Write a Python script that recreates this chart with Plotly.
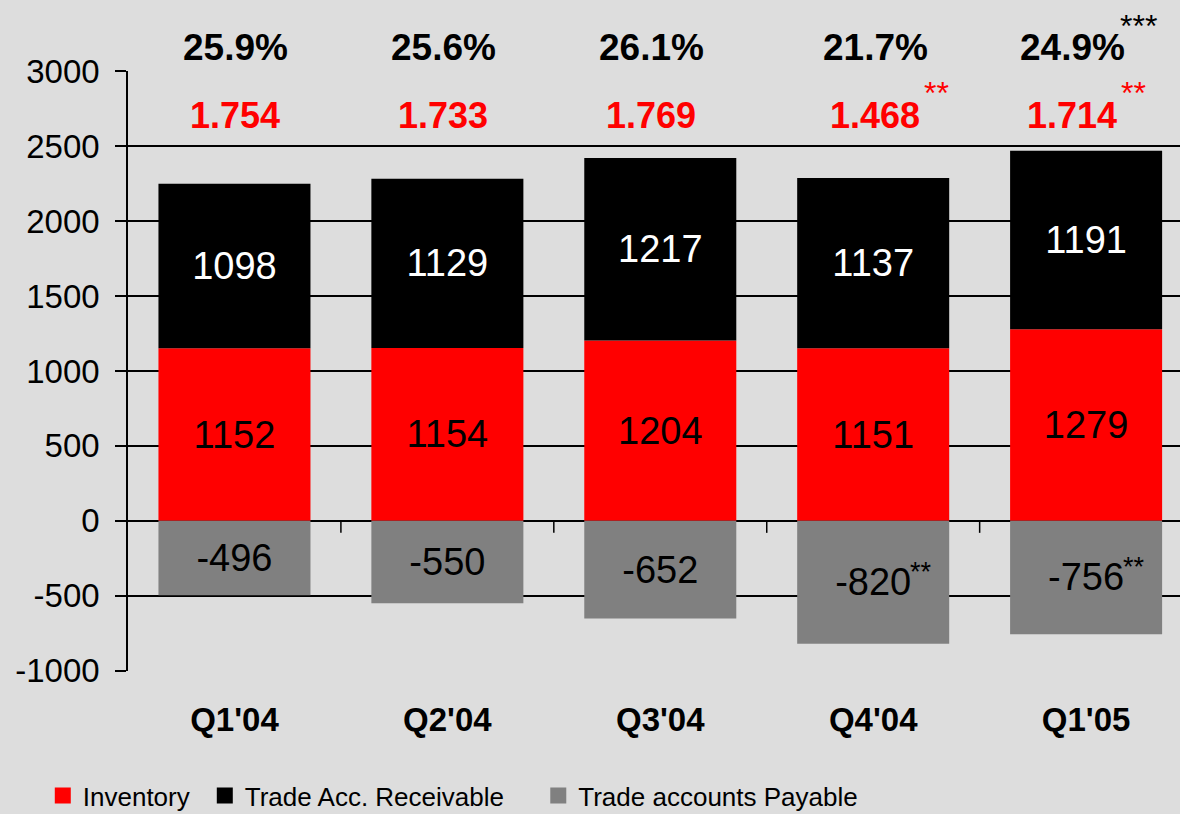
import plotly.graph_objects as go

# ---------------- data ----------------
categories = ["Q1'04", "Q2'04", "Q3'04", "Q4'04", "Q1'05"]
inventory = [1152, 1154, 1204, 1151, 1279]
receivable = [1098, 1129, 1217, 1137, 1191]
payable = [-496, -550, -652, -820, -756]
margin_pct = ["25.9%", "25.6%", "26.1%", "21.7%", "24.9%"]
working_capital = ["1.754", "1.733", "1.769", "1.468", "1.714"]
pct_notes = ["", "", "", "", "***"]
wc_notes = ["", "", "", "**", "**"]
payable_notes = ["", "", "", "**", "**"]
y_ticks = [-1000, -500, 0, 500, 1000, 1500, 2000, 2500, 3000]
series_names = ["Inventory", "Trade Acc. Receivable", "Trade accounts Payable"]

# ---------------- style ----------------
FONT = "Liberation Sans, Arial, sans-serif"
BG = "#DDDDDD"
RED = "#FF0000"
BLACK = "#000000"
GREY = "#808080"
Y_MIN, Y_MAX = -1002, 3002
PCT_Y = 3158
WC_Y = 2705
top_xshift = [1, -4, -9, 2, -14]
legend_x = [-0.081, 0.073, 0.390]


def paper_y(v):
    return (v - Y_MIN) / (Y_MAX - Y_MIN)


fig = go.Figure()

bar_specs = [
    (inventory, RED, "black"),
    (receivable, BLACK, "white"),
    (payable, GREY, "black"),
]
for name, (vals, color, tcolor) in zip(series_names, bar_specs):
    fig.add_trace(go.Bar(
        x=categories, y=vals, name=name,
        marker=dict(color=color, line=dict(width=0)),
        text=[str(v) for v in vals],
        textposition="inside", insidetextanchor="middle", textangle=0,
        textfont=dict(family=FONT, size=38, color=tcolor),
        showlegend=False, hoverinfo="skip",
    ))

# legend entries (square swatches), one legend each
for k, (name, (vals, color, tcolor)) in enumerate(zip(series_names, bar_specs)):
    lg = "legend" if k == 0 else f"legend{k + 1}"
    fig.add_trace(go.Scatter(
        x=[None], y=[None], mode="markers", name=name,
        marker=dict(symbol="square", size=16, color=color),
        legend=lg, showlegend=True,
    ))

annotations = []
for i, cat in enumerate(categories):
    annotations.append(dict(
        x=cat, y=paper_y(PCT_Y), xref="x", yref="paper", text=margin_pct[i], showarrow=False,
        font=dict(family=FONT, size=37, color=BLACK, weight="bold"),
        bgcolor=BG, width=149, borderpad=4, xanchor="center", yanchor="middle",
        xshift=top_xshift[i],
    ))
    annotations.append(dict(
        x=cat, y=WC_Y, xref="x", yref="y", text=working_capital[i], showarrow=False,
        font=dict(family=FONT, size=36, color=RED, weight="bold"),
        xanchor="center", yanchor="middle", xshift=top_xshift[i],
    ))
    if pct_notes[i]:
        annotations.append(dict(
            x=cat, y=paper_y(PCT_Y), xref="x", yref="paper", text=pct_notes[i], showarrow=False,
            font=dict(family=FONT, size=32, color=BLACK),
            xanchor="left", yanchor="middle", xshift=top_xshift[i] + 46, yshift=22,
        ))
    if wc_notes[i]:
        annotations.append(dict(
            x=cat, y=WC_Y, xref="x", yref="y", text=wc_notes[i], showarrow=False,
            font=dict(family=FONT, size=32, color=RED),
            xanchor="left", yanchor="middle", xshift=top_xshift[i] + 47, yshift=23,
        ))
    if payable_notes[i]:
        annotations.append(dict(
            x=cat, y=payable[i] / 2, xref="x", yref="y", text=payable_notes[i], showarrow=False,
            font=dict(family=FONT, size=27, color=BLACK),
            xanchor="left", yanchor="middle", xshift=35, yshift=10,
        ))

# small category tick marks hanging from the zero line
shapes = []
for i in range(len(categories) - 1):
    shapes.append(dict(
        type="line", xref="x", yref="y", x0=i + 0.5, x1=i + 0.5, y0=0, y1=-80,
        line=dict(color=BLACK, width=1.5), layer="above",
    ))

legend_common = dict(
    orientation="h", y=-0.2075, yanchor="middle", xanchor="left",
    font=dict(family=FONT, size=26, color=BLACK), bgcolor="rgba(0,0,0,0)",
    borderwidth=0, itemsizing="trace",
)

fig.update_layout(
    width=1180, height=814,
    margin=dict(l=128, r=0, t=71, b=143, autoexpand=False),
    paper_bgcolor=BG, plot_bgcolor=BG,
    barmode="relative", bargap=0.286,
    font=dict(family=FONT, color=BLACK),
    annotations=annotations, shapes=shapes,
    legend=dict(x=legend_x[0], **legend_common),
    legend2=dict(x=legend_x[1], **legend_common),
    legend3=dict(x=legend_x[2], **legend_common),
    xaxis=dict(
        type="category", categoryorder="array", categoryarray=categories,
        range=[-0.5, 4.441], showgrid=False, zeroline=False, showline=False,
        ticks="", tickfont=dict(family=FONT, size=33, color=BLACK, weight="bold"),
        ticklabelstandoff=26, automargin=False,
    ),
    yaxis=dict(
        range=[Y_MIN, Y_MAX], tickvals=y_ticks, ticktext=[str(v) for v in y_ticks],
        showgrid=True, gridcolor=BLACK, gridwidth=1.5, zeroline=False,
        showline=True, linecolor=BLACK, linewidth=1.5,
        ticks="outside", ticklen=11, tickwidth=1.5, tickcolor=BLACK,
        tickfont=dict(family=FONT, size=33, color=BLACK), ticklabelstandoff=9,
        automargin=False,
    ),
)

fig.write_html(
    "out.html",
    config={"displayModeBar": False},
    post_script="document.body.style.margin='0';document.body.style.overflow='hidden';",
)
